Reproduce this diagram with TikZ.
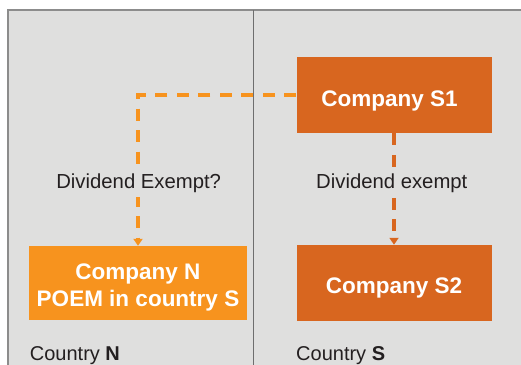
\documentclass[tikz,border=0pt]{standalone}
\usepackage{fontspec}
\setmainfont{Liberation Sans}
\usetikzlibrary{arrows.meta}
\definecolor{panel}{HTML}{DFDFDE}
\definecolor{frame}{HTML}{8C8C8C}
\definecolor{divider}{HTML}{6E6E6E}
\definecolor{burnt}{HTML}{D8661F}
\definecolor{amber}{HTML}{F7931E}
\definecolor{ink}{HTML}{231F20}

\begin{document}
\begin{tikzpicture}[x=1pt,y=-1pt,
  entity/.style={rectangle, draw=none, inner sep=0pt,
    minimum width=195pt, minimum height=76.5pt},
  entitytext/.style={anchor=base, inner sep=0pt, text=white,
    font=\fontsize{22.5}{27}\selectfont\bfseries},
  note/.style={anchor=base, inner xsep=2pt, inner ysep=4pt, fill=panel, text=ink,
    font=\fontsize{20.3}{24}\selectfont},
  country/.style={anchor=base west, inner sep=0pt, text=ink,
    font=\fontsize{20}{24}\selectfont},
  flow/.style={line width=3.2pt, dash pattern=on 12pt off 9.5pt,
    -{Triangle[width=9pt,length=7pt]}}
]
\useasboundingbox (0,0) rectangle (521,364);
\fill[white] (-5,-5) rectangle (530,375);

% two country panels, running on past the right and bottom edges
\fill[panel] (8,10) rectangle (530,375);
\draw[frame, line width=1.6pt] (8,375) -- (8,10) -- (530,10);
\draw[divider, line width=1pt] (253.5,10) -- (253.5,375);

% companies
\node[entity, fill=burnt] (s1) at (394,95) {};
\node[entitytext] (s1t) at (389.5,106) {Company S1};

\node[entity, fill=burnt] (s2) at (394,283.2) {};
\node[entitytext] (s2t) at (394,293.3) {Company S2};

\node[entity, fill=amber, minimum width=218pt, minimum height=74pt] (n) at (138,283) {};
\node[entitytext] (nt1) at (138,279) {Company N};
\node[entitytext] (nt2) at (138,306) {POEM in country S};

% dividend flows
\draw[flow, amber] (s1.west) -| (n.north);
\draw[flow, burnt] (s1.south) -- (s2.north);

\node[note] (q) at (138.7,188.3) {Dividend Exempt?};
\node[note] (e) at (391.8,188.3) {Dividend exempt};

% country captions
\node[country] (cn) at (29.7,360.7) {Country \textbf{N}};
\node[country] (cs) at (296,360.7) {Country \textbf{S}};
\end{tikzpicture}
\end{document}
